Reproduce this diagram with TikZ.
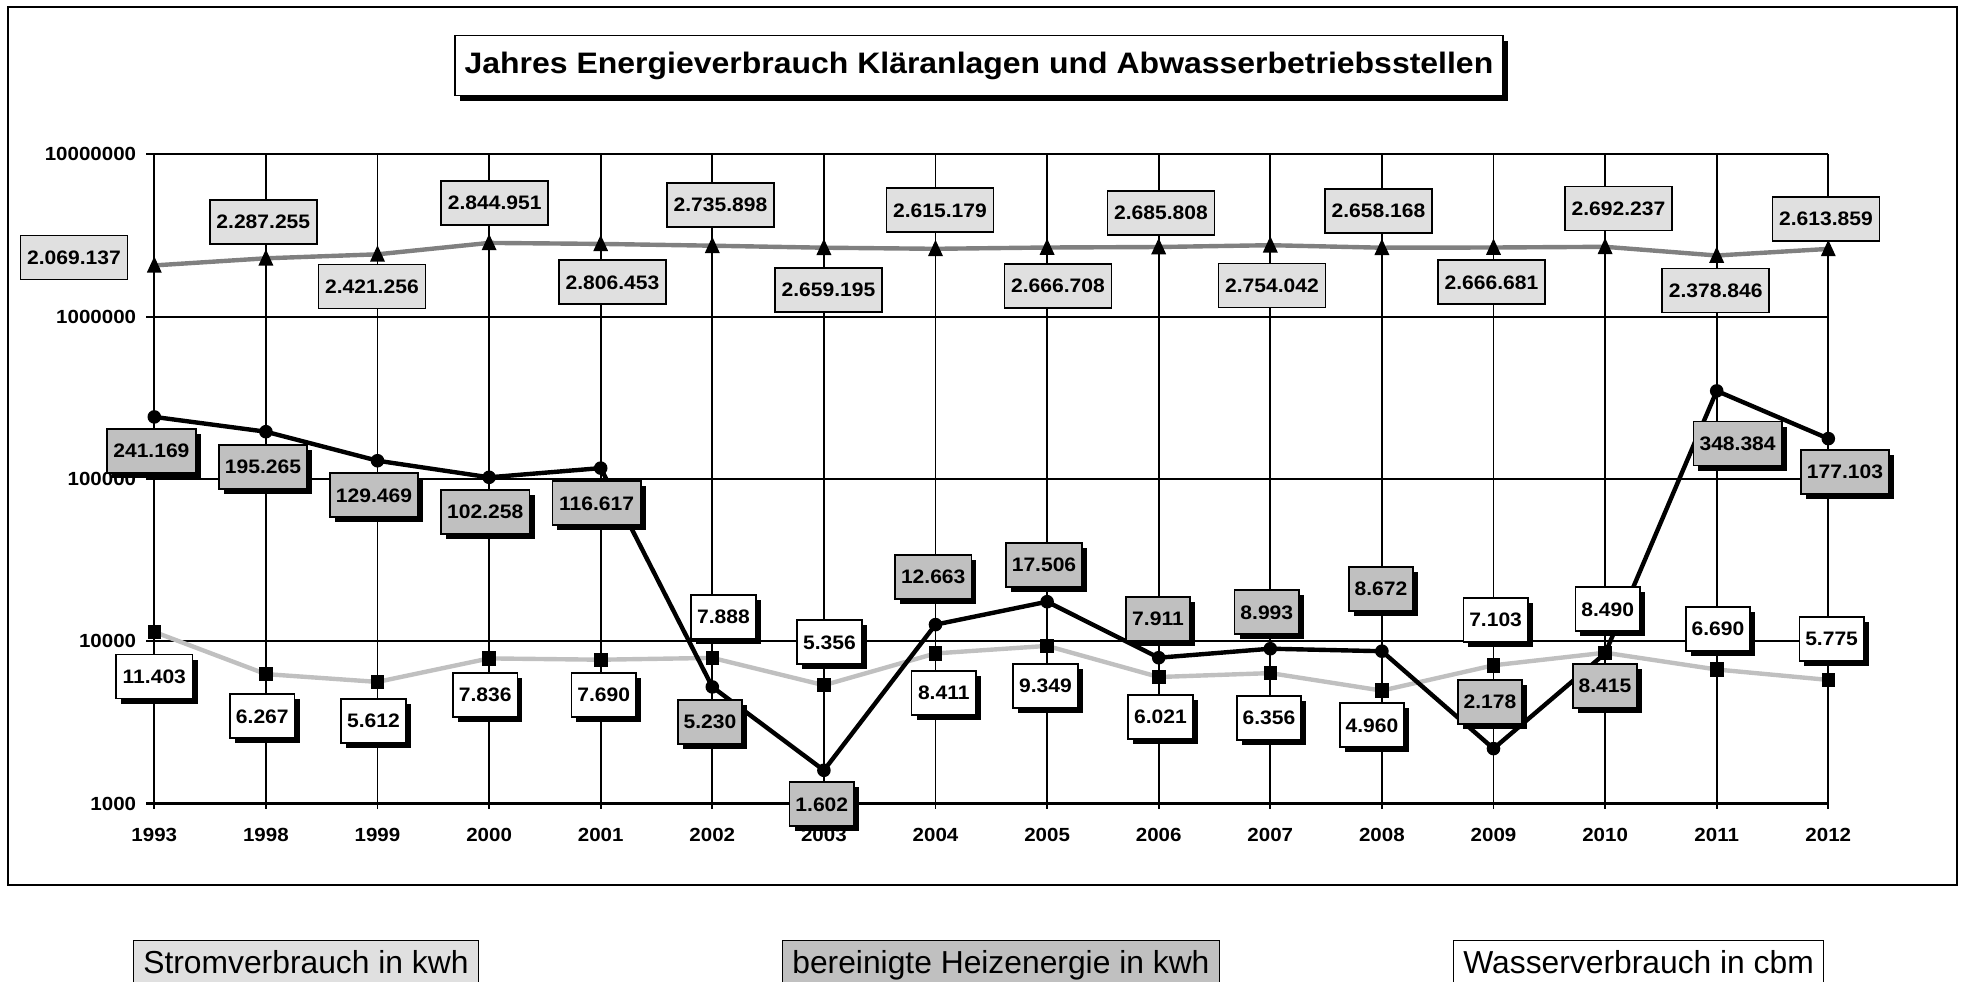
\documentclass[tikz,border=0pt]{standalone}
\usepackage{fontspec}
\setmainfont{Liberation Sans}
\newfontfamily\chartfont[FakeStretch=1.08]{Liberation Sans}
\usetikzlibrary{shadows}
\definecolor{stromfill}{HTML}{E0E0E0}
\definecolor{heizfill}{HTML}{C0C0C0}
\definecolor{stromline}{HTML}{808080}
\definecolor{wasserline}{HTML}{C0C0C0}
\begin{document}
\begin{tikzpicture}[x=0.5pt,y=-0.5pt,
  gridln/.style={line width=0.9pt},
  axisln/.style={line width=1.6pt},
  sline/.style={draw=stromline,line width=2.2pt,line join=round},
  hline/.style={draw=black,line width=2.2pt,line join=round},
  wline/.style={draw=wasserline,line width=2.2pt,line join=round},
  lbl/.style={draw,line width=0.85pt,inner sep=0pt,minimum height=22pt,
    font=\chartfont\bfseries\fontsize{9.75}{11}\selectfont},
  shad/.style={general shadow={fill=black,shadow xshift=2.5pt,shadow yshift=-2.5pt}},
  slbl/.style={lbl,fill=stromfill},
  hlbl/.style={lbl,fill=heizfill,shad},
  wlbl/.style={lbl,fill=white,shad},
  lw9/.style={minimum width=53.5pt},
  lw7/.style={minimum width=44.25pt},
  lw6/.style={minimum width=38.25pt},
  lw5/.style={minimum width=32.25pt},
  axlbl/.style={inner sep=0pt,font=\chartfont\bfseries\fontsize{9.5}{11}\selectfont},
  legbox/.style={draw,line width=0.65pt,anchor=north west,inner xsep=4.85pt,
    inner ysep=2.5pt,text height=14pt,text depth=15pt,
    font=\fontsize{15.9}{18}\selectfont}
]
\useasboundingbox (0,0) rectangle (1961,981);
\clip (0,0) rectangle (1961,981);

% outer chart frame
\draw[line width=1pt] (8,7) rectangle (1957,885);

% horizontal gridlines with ticks and axis labels
\foreach \v/\yy in {10000000/154.3,1000000/316.6,100000/478.9,10000/641.2}{
  \draw[gridln] (146,\yy) -- (1828.3,\yy);
  \node[axlbl,anchor=east] (ax\v) at (136.5,\yy) {\v};
}
\node[axlbl,anchor=east] (ax1000) at (136.5,803.5) {1000};

% vertical gridlines and year labels
\foreach \i/\yr in {0/1993,1/1998,2/1999,3/2000,4/2001,5/2002,6/2003,7/2004,8/2005,9/2006,10/2007,11/2008,12/2009,13/2010,14/2011,15/2012}{
  \pgfmathsetmacro\xx{154.3+111.6*\i}
  \draw[gridln] (\xx,154.3) -- (\xx,809);
  \node[axlbl] (yr\yr) at (\xx,835) {\yr};
}
\draw[axisln] (146,803.5) -- (1828.3,803.5);

% data points
\foreach \i/\ys/\yh/\yw in {0/265.4/416.9/631.9, 1/258.3/431.7/674.1, 2/254.3/460.7/681.9, 3/242.9/477.3/658.4, 4/243.9/468.1/659.7, 5/245.7/686.9/657.9, 6/247.7/770.3/685.2, 7/248.8/624.6/653.4, 8/247.5/601.7/645.9, 9/247.0/657.7/677.0, 10/245.2/648.7/673.1, 11/247.7/651.2/690.6, 12/247.5/748.6/665.3, 13/246.8/653.4/652.7, 14/255.5/390.9/669.5, 15/248.9/438.6/679.9}{
  \pgfmathsetmacro\xx{154.3+111.6*\i}
  \coordinate (s\i) at (\xx,\ys);
  \coordinate (h\i) at (\xx,\yh);
  \coordinate (w\i) at (\xx,\yw);
}

% series lines
\draw[wline] (w0) \foreach \i in {1,...,15}{ -- (w\i)};
\draw[sline] (s0) \foreach \i in {1,...,15}{ -- (s\i)};
\draw[hline] (h0) \foreach \i in {1,...,15}{ -- (h\i)};

% markers
\foreach \i in {0,...,15}{
  \fill (s\i) +(-7.5,7.3) -- +(7.5,7.3) -- +(0,-9) -- cycle;
  \fill (h\i) circle (6.8);
  \fill (w\i) +(-6.8,-7.2) rectangle +(6.8,7.2);
}

% Strom labels
\foreach \i/\t/\cx/\cy in {0/2.069.137/74/257.5, 1/2.287.255/263.3/222, 2/2.421.256/371.9/286.5, 3/2.844.951/494.7/203, 4/2.806.453/612.5/282.3, 5/2.735.898/720.5/205, 6/2.659.195/828.5/290, 7/2.615.179/940/210.3, 8/2.666.708/1058/286, 9/2.685.808/1161/212.7, 10/2.754.042/1272/285.5, 11/2.658.168/1378.5/211, 12/2.666.681/1491.5/282.3, 13/2.692.237/1618.5/208.5, 14/2.378.846/1715.7/290.5, 15/2.613.859/1826/218.8}{
  \node[slbl,lw9] (sl\i) at (\cx,\cy) {\t};
}

% Wasser labels
\foreach \i/\t/\cx/\cy/\w in {0/11.403/154.3/676.5/lw6, 1/6.267/262.3/716.3/lw5, 2/5.612/373.4/720.8/lw5, 3/7.836/485.2/694.7/lw5, 4/7.690/603.7/694.7/lw5, 5/7.888/723.4/616.7/lw5, 6/5.356/829.5/642.3/lw5, 7/8.411/943.8/693/lw5, 8/9.349/1045.5/685.8/lw5, 9/6.021/1160.5/717/lw5, 10/6.356/1269/717.8/lw5, 11/4.960/1372/725.3/lw5, 12/7.103/1495.6/619.7/lw5, 13/8.490/1607.7/609.3/lw5, 14/6.690/1718/628.7/lw5, 15/5.775/1831.6/638.7/lw5}{
  \node[wlbl,\w] (wl\i) at (\cx,\cy) {\t};
}

% Heiz labels
\foreach \i/\t/\cx/\cy/\w in {0/241.169/151.4/451/lw7, 1/195.265/263/466.7/lw7, 2/129.469/374/495.3/lw7, 3/102.258/485.3/512/lw7, 4/116.617/596.6/503.3/lw7, 5/5.230/710/721.7/lw5, 6/1.602/821.8/804.3/lw5, 7/12.663/933.2/577/lw6, 8/17.506/1044/564.7/lw6, 9/7.911/1158/619/lw5, 10/8.993/1266.8/612.3/lw5, 11/8.672/1381/589/lw5, 12/2.178/1490/702/lw5, 13/8.415/1605/686/lw5, 14/348.384/1737.6/443.5/lw7, 15/177.103/1845/472/lw7}{
  \node[hlbl,\w] (hl\i) at (\cx,\cy) {\t};
}

% title
\node[draw,fill=white,line width=0.9pt,shad,minimum width=524pt,minimum height=30pt,inner sep=0pt,
  font=\chartfont\bfseries\fontsize{14.8}{17}\selectfont] (title) at (979,65.5)
  {Jahres Energieverbrauch Kläranlagen und Abwasserbetriebsstellen};

% legend
\node[legbox,fill=stromfill] (legS) at (133,940) {Stromverbrauch in kwh};
\node[legbox,fill=heizfill] (legH) at (782,940) {bereinigte Heizenergie in kwh};
\node[legbox,fill=white] (legW) at (1453,940) {Wasserverbrauch in cbm};
\end{tikzpicture}
\end{document}
